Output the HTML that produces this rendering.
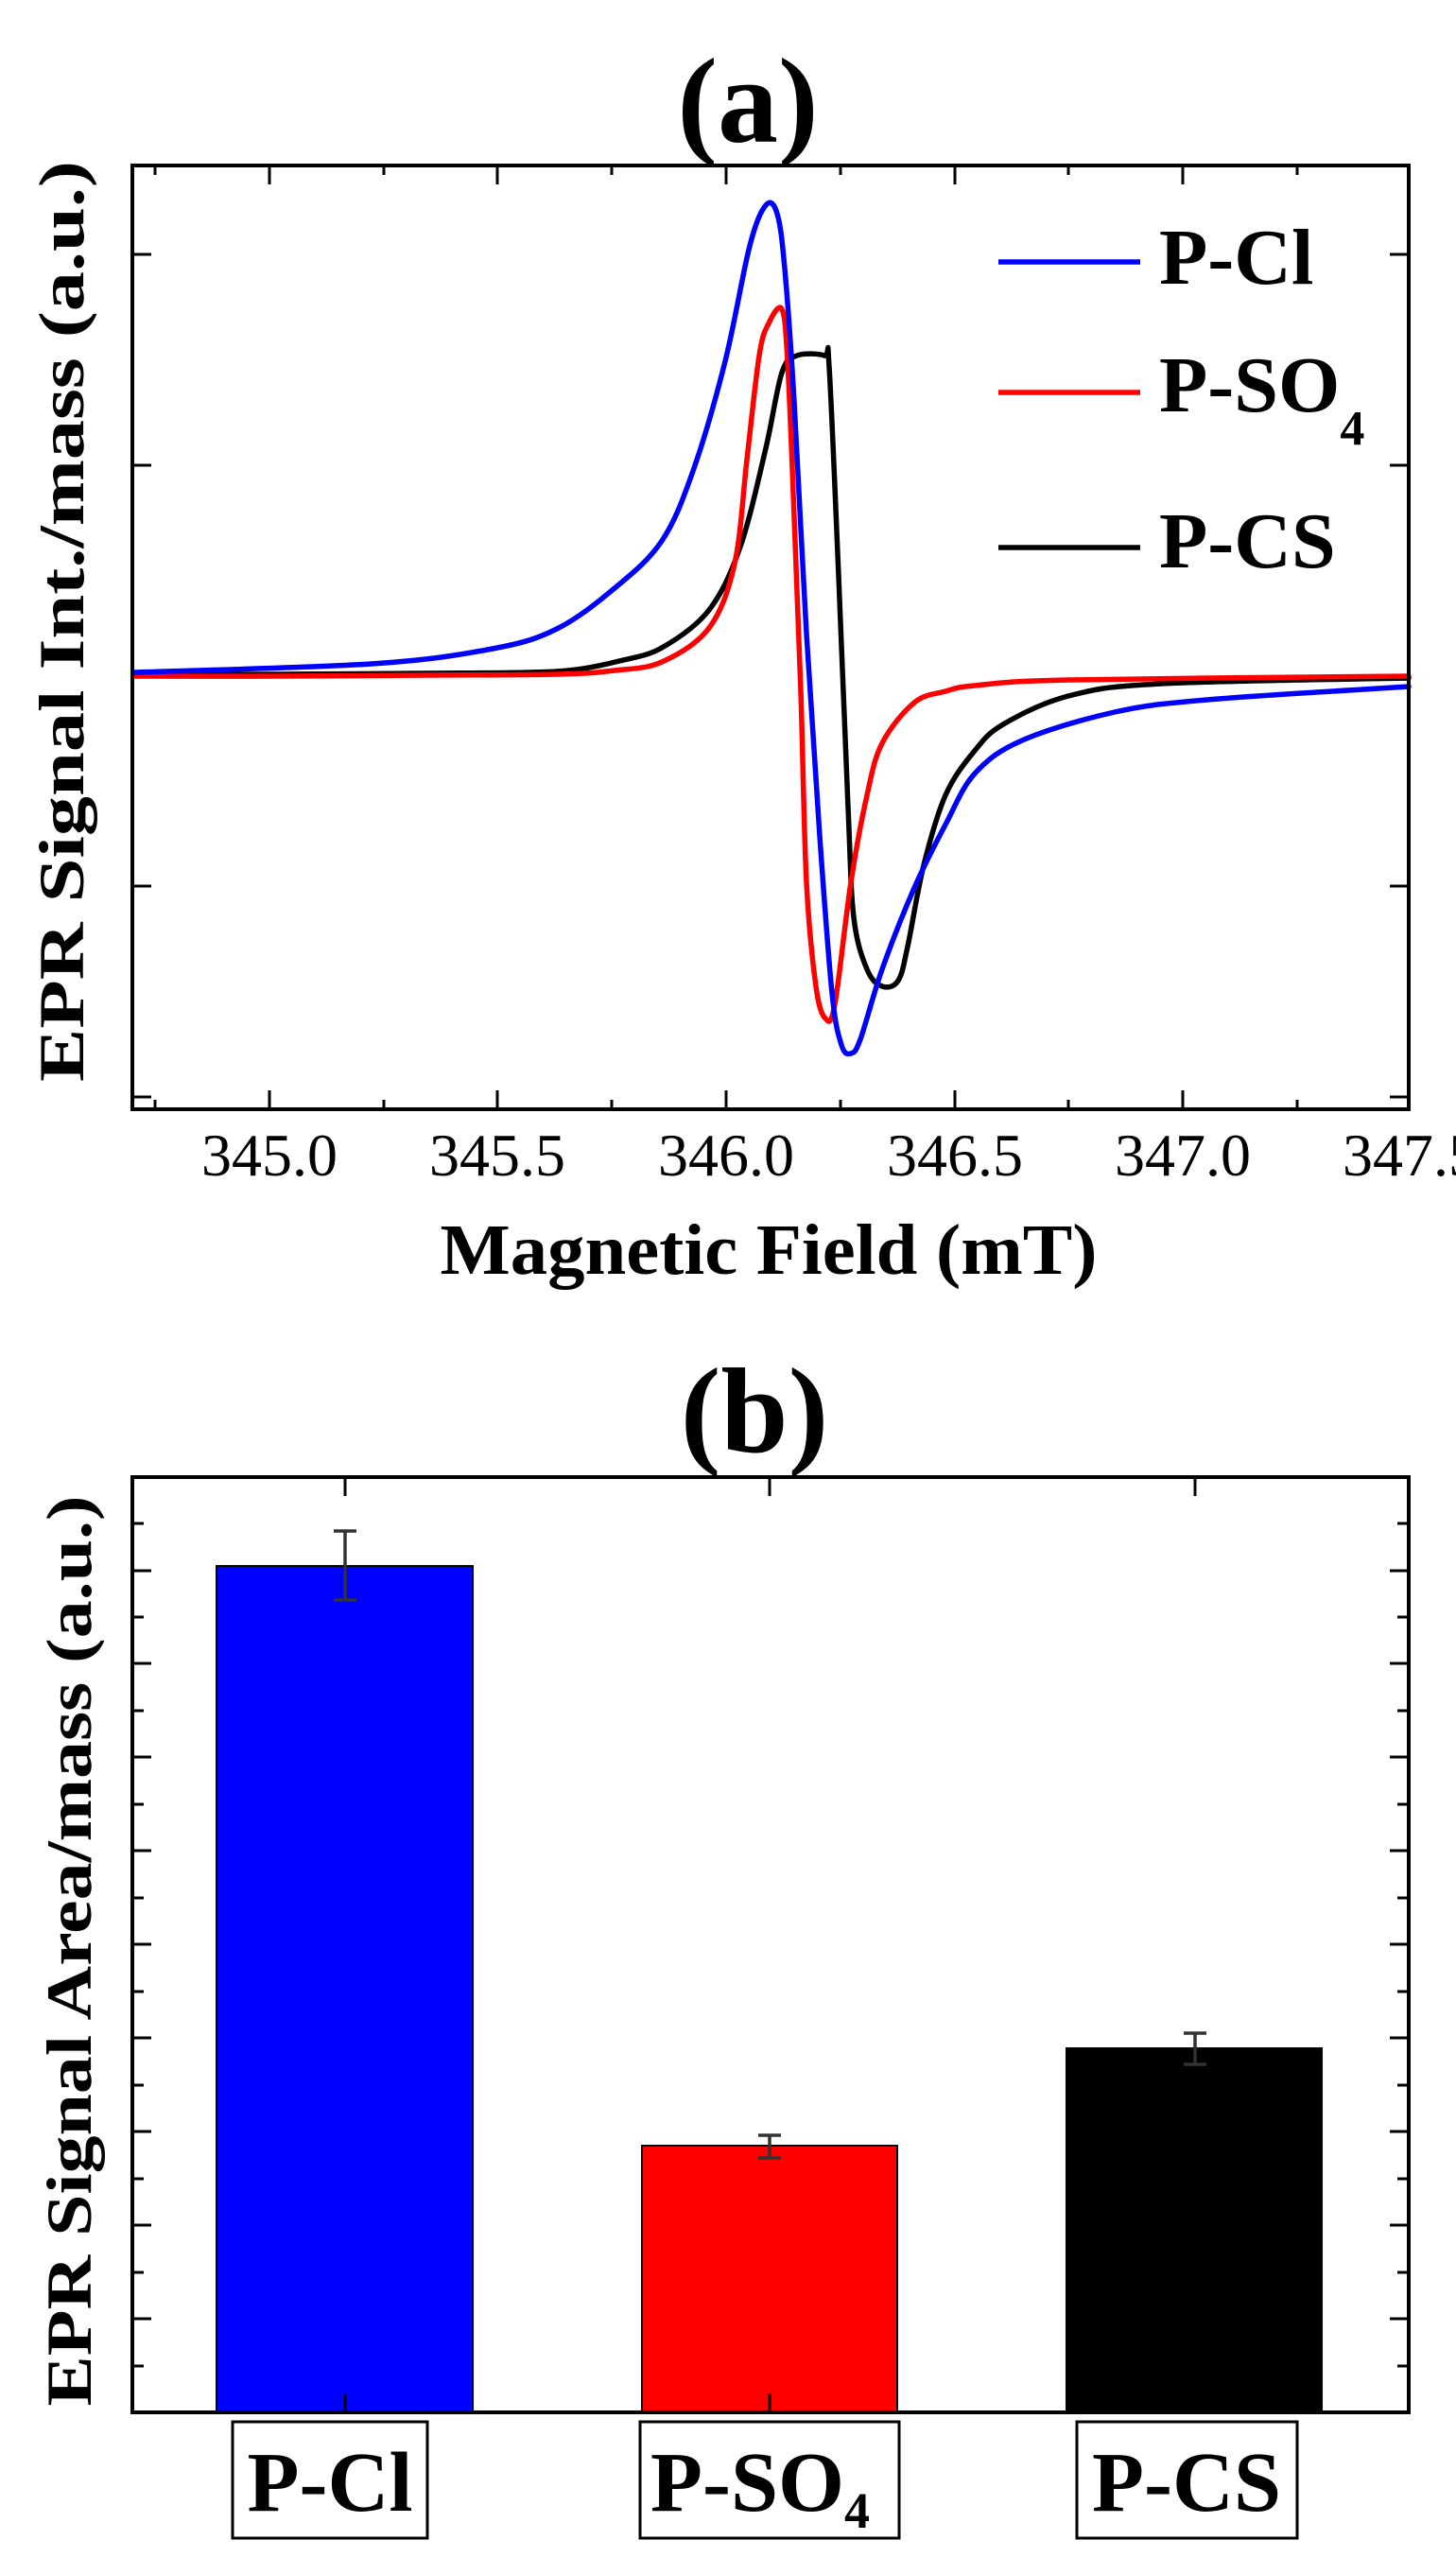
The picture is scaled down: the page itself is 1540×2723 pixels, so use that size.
<!DOCTYPE html>
<html><head><meta charset="utf-8"><style>html,body{margin:0;padding:0;background:#fff}svg{display:block}</style></head>
<body>
<svg width="1540" height="2723" viewBox="0 0 1540 2723" xmlns="http://www.w3.org/2000/svg" font-family="'Liberation Serif', serif">
<text x="791" y="150" font-size="128" font-weight="bold" text-anchor="middle">(a)</text>
<g stroke="#000" stroke-width="3" fill="none">
<path d="M164 1173v-10M285 1173v-20M406 1173v-10M526 1173v-20M647 1173v-10M768 1173v-20M889 1173v-10M1010 1173v-20M1130 1173v-10M1251 1173v-20M1372 1173v-10
M164 175v10M285 175v20M406 175v10M526 175v20M647 175v10M768 175v20M889 175v10M1010 175v20M1130 175v10M1251 175v20M1372 175v10
M140 269h20M140 492h20M140 715h20M140 937h20M140 1160h20
M1490 269h-20M1490 492h-20M1490 715h-20M1490 937h-20M1490 1160h-20"/>
</g>
<g fill="none" stroke-width="5.5" stroke-linejoin="round" stroke-linecap="round">
<polyline class="sm" stroke="#000" points="142,713 300,713 450,712 560,711 610,708 655,699 700,685 750,645 783,578 810,474 827,394 843,376 872,376 877,388 887,609 897,854 903,970 917,1025 933,1043 950,1037 960,1001 977,915 1000,841 1030,795 1061,766 1130,736 1228,723 1490,717"/>
<polyline class="sm" stroke="#ff0000" points="142,715 300,715 450,714 589,713 650,709 700,700 750,664 777,596 790,486 803,376 813,342 827,327 833,382 840,547 847,731 853,933 863,1043 873,1077 883,1062 900,933 917,841 933,786 967,743 1000,731 1031,725 1130,719 1490,715"/>
<polyline class="sm" stroke="#0000ff" points="142,711 393,702 521,686 589,665 650,622 700,572 733,498 767,382 793,260 810,217 822,226 830,284 840,425 853,670 867,884 880,1050 890,1105 900,1114 910,1099 933,1025 967,939 1000,872 1031,818 1081,783 1179,753 1277,740 1490,726"/>
</g>
<rect x="140" y="175" width="1350" height="998" fill="none" stroke="#000" stroke-width="4"/>
<g font-size="64" text-anchor="middle">
<text x="285" y="1243">345.0</text><text x="526" y="1243">345.5</text><text x="768" y="1243">346.0</text><text x="1010" y="1243">346.5</text><text x="1251" y="1243">347.0</text><text x="1492" y="1243">347.5</text>
</g>
<text x="813" y="1347" font-size="76" font-weight="bold" text-anchor="middle" textLength="695" lengthAdjust="spacingAndGlyphs">Magnetic Field (mT)</text>
<text transform="translate(88,657) rotate(-90)" font-size="68" font-weight="bold" text-anchor="middle" textLength="974" lengthAdjust="spacingAndGlyphs">EPR Signal Int./mass (a.u.)</text>
<g stroke-width="5.5">
<line x1="1056" y1="277" x2="1206" y2="277" stroke="#0000ff"/>
<line x1="1056" y1="415" x2="1206" y2="415" stroke="#ff0000"/>
<line x1="1056" y1="579" x2="1206" y2="579" stroke="#000"/>
</g>
<g font-size="84" font-weight="bold">
<text x="1226" y="300">P-Cl</text>
<text x="1226" y="435">P-SO<tspan font-size="52" dy="35">4</tspan></text>
<text x="1226" y="600">P-CS</text>
</g>

<text x="798" y="1535" font-size="128" font-weight="bold" text-anchor="middle">(b)</text>
<rect x="229" y="1656" width="271" height="895" fill="#0000ff" stroke="#000" stroke-width="2"/>
<rect x="679" y="2269" width="270" height="282" fill="#ff0000" stroke="#000" stroke-width="2"/>
<rect x="1128" y="2166" width="270" height="385" fill="#000" stroke="#000" stroke-width="2"/>
<g stroke="#333" stroke-width="3.5" fill="none">
<path d="M365 1619v73M353 1619h24M353 1692h24"/>
<path d="M814 2258v24M802 2258h24M802 2282h24"/>
<path d="M1264 2150v33M1252 2150h24M1252 2183h24"/>
</g>
<g stroke="#000" stroke-width="3" fill="none">
<path d="M365 1562v20M814 1562v20M1264 1562v20M365 2551v-20M814 2551v-20M1264 2551v-20"/>
<path d="M140 2502h12M140 2452h20M140 2403h12M140 2353h20M140 2304h12M140 2254h20M140 2205h12M140 2155h20M140 2106h12M140 2056h20M140 2007h12M140 1957h20M140 1908h12M140 1858h20M140 1809h12M140 1759h20M140 1710h12M140 1661h20M140 1611h12
M1490 2502h-12M1490 2452h-20M1490 2403h-12M1490 2353h-20M1490 2304h-12M1490 2254h-20M1490 2205h-12M1490 2155h-20M1490 2106h-12M1490 2056h-20M1490 2007h-12M1490 1957h-20M1490 1908h-12M1490 1858h-20M1490 1809h-12M1490 1759h-20M1490 1710h-12M1490 1661h-20M1490 1611h-12"/>
</g>
<rect x="140" y="1562" width="1350" height="989" fill="none" stroke="#000" stroke-width="4"/>
<text transform="translate(96,2063) rotate(-90)" font-size="68" font-weight="bold" text-anchor="middle" textLength="963" lengthAdjust="spacingAndGlyphs">EPR Signal Area/mass (a.u.)</text>
<g fill="none" stroke="#000" stroke-width="3">
<rect x="246" y="2561" width="206" height="123"/>
<rect x="677" y="2561" width="274" height="123"/>
<rect x="1139" y="2561" width="233" height="123"/>
</g>
<g font-size="90" font-weight="bold">
<text x="349" y="2655" text-anchor="middle">P-Cl</text>
<text x="688" y="2655">P-SO<tspan font-size="54" dy="18">4</tspan></text>
<text x="1255" y="2655" text-anchor="middle">P-CS</text>
</g>
</svg>
<script>
(function(){
var ns="http://www.w3.org/2000/svg";
document.querySelectorAll("polyline.sm").forEach(function(pl){
  var p=pl.getAttribute("points").trim().split(/\s+/).map(function(s){return s.split(",").map(Number);});
  var d="M"+p[0][0]+" "+p[0][1];
  for(var i=0;i<p.length-1;i++){
    var p0=p[i-1]||p[i],p1=p[i],p2=p[i+1],p3=p[i+2]||p2;
    var c1x=p1[0]+(p2[0]-p0[0])/6,c1y=p1[1]+(p2[1]-p0[1])/6;
    var c2x=p2[0]-(p3[0]-p1[0])/6,c2y=p2[1]-(p3[1]-p1[1])/6;
    d+=" C"+c1x.toFixed(1)+" "+c1y.toFixed(1)+" "+c2x.toFixed(1)+" "+c2y.toFixed(1)+" "+p2[0]+" "+p2[1];
  }
  var path=document.createElementNS(ns,"path");
  path.setAttribute("d",d);
  path.setAttribute("stroke",pl.getAttribute("stroke"));
  pl.parentNode.replaceChild(path,pl);
});
})();
</script>
</body></html>
